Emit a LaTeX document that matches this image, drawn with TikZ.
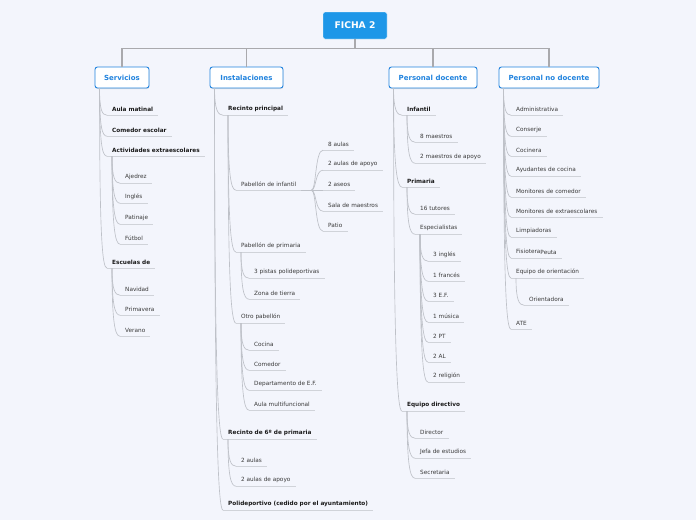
\documentclass[tikz,border=0pt]{standalone}
\usepackage{fontspec}
\setmainfont{DejaVu Sans}
\usetikzlibrary{calc,shadows}
\definecolor{bg}{HTML}{F3F5FC}
\definecolor{rootblue}{HTML}{1E97E8}
\definecolor{boxblue}{HTML}{2183DE}
\definecolor{txtb}{HTML}{1A1A1A}
\definecolor{txt}{HTML}{3A3A3A}
\definecolor{cncol}{HTML}{BEC1C8}
\definecolor{ulcol}{HTML}{D0D3D9}
\definecolor{trunkcol}{HTML}{A9A9AD}
\tikzset{
  lbl/.style={anchor=west, inner xsep=5pt, inner ysep=0pt, minimum height=12pt,
    font=\fontsize{5.75}{6}\selectfont, text=txt},
  blbl/.style={lbl, font=\fontsize{5.75}{6}\selectfont\bfseries, text=txtb},
  ul/.style={draw=ulcol, line width=0.8pt},
  cn/.style={draw=cncol, line width=0.65pt},
  trunk/.style={draw=trunkcol, line width=1.2pt},
  rootbox/.style={fill=rootblue, draw=white, line width=0.4pt, rounded corners=2pt,
    minimum width=64pt, minimum height=27pt, text=white,
    font=\fontsize{9.2}{10}\selectfont\bfseries},
  topbox/.style={fill=white, draw=boxblue, line width=0.9pt, rounded corners=2.5pt,
    minimum height=21pt, inner xsep=2pt, text=boxblue,
    font=\fontsize{7}{8}\selectfont\bfseries,
    drop shadow={opacity=0.22, shadow xshift=0.4pt, shadow yshift=-1pt}},
}
\newcommand\lf[4]{\node[#1] (#2) at (#3) {#4}; \draw[ul] (#2.south west) -- (#2.south east);}
\newcommand\cn[2]{\draw[cn] (#1) .. controls ($(#1)!0.8!(#1 |- #2.south west)$) and ($(#2.south west)+(-5,0)$) .. (#2.south west);}
\newcommand\org[1]{\coordinate (#1-o) at ($(#1.south west)+(5,0)$);}
\begin{document}
\begin{tikzpicture}[x=1pt,y=-1pt]
\useasboundingbox (0,0) rectangle (696,520);
\fill[bg] (0,0) rectangle (696,520);

% root and main boxes
\node[rootbox] (root) at (355,25.5) {FICHA 2};
\node[topbox, minimum width=54pt] (sv) at (122,77.5) {Servicios};
\node[topbox, minimum width=73pt] (in) at (246.5,77.5) {Instalaciones};
\node[topbox, minimum width=88pt] (pd) at (433,77.5) {Personal docente};
\node[topbox, minimum width=100pt] (pn) at (549,77.5) {Personal no docente};
\draw[trunk] (root.south) -- ++(0,9.5) -| (sv.north);
\draw[trunk] (root.south) -- ++(0,9.5) -| (in.north);
\draw[trunk] (root.south) -- ++(0,9.5) -| (pd.north);
\draw[trunk] (root.south) -- ++(0,9.5) -| (pn.north);
\org{sv}\org{in}\org{pd}\org{pn}

% ---------------- Servicios
\lf{blbl}{am}{107,109}{Aula matinal}
\lf{blbl}{ce}{107,130}{Comedor escolar}
\lf{blbl}{ae}{107,150}{Actividades extraescolares}
\lf{blbl}{ed}{107,262}{Escuelas de}
\cn{sv-o}{am}\cn{sv-o}{ce}\cn{sv-o}{ae}\cn{sv-o}{ed}
\org{ae}\org{ed}
\lf{lbl}{aj}{120,177}{Ajedrez}
\lf{lbl}{ig}{120,197}{Inglés}
\lf{lbl}{pt}{120,218}{Patinaje}
\lf{lbl}{fu}{120,238}{Fútbol}
\cn{ae-o}{aj}\cn{ae-o}{ig}\cn{ae-o}{pt}\cn{ae-o}{fu}
\lf{lbl}{nv}{120,289}{Navidad}
\lf{lbl}{pr}{120,309}{Primavera}
\lf{lbl}{ve}{120,330}{Verano}
\cn{ed-o}{nv}\cn{ed-o}{pr}\cn{ed-o}{ve}

% ---------------- Instalaciones
\lf{blbl}{rp}{223,109}{Recinto principal}
\lf{blbl}{r6}{223,433}{Recinto de 6º de primaria}
\lf{blbl}{po}{223,504}{Polideportivo (cedido por el ayuntamiento)}
\cn{in-o}{rp}\cn{in-o}{r6}\cn{in-o}{po}
\org{rp}\org{r6}
\lf{lbl}{pi}{236,184}{Pabellón de infantil}
\lf{lbl}{pp}{236,246}{Pabellón de primaria}
\lf{lbl}{op}{236,317}{Otro pabellón}
\cn{rp-o}{pi}\cn{rp-o}{pp}\cn{rp-o}{op}
\lf{lbl}{a8}{323,144}{8 aulas}
\lf{lbl}{a2}{323,164}{2 aulas de apoyo}
\lf{lbl}{as}{323,184}{2 aseos}
\lf{lbl}{sm}{323,205}{Sala de maestros}
\lf{lbl}{pa}{323,225}{Patio}
\coordinate (pi-f) at ($(pi.south east)+(10,0)$);
\draw[cn, line width=0.9pt] (pi.south east) -- (pi-f);
\foreach \c in {a8,a2,as,sm,pa}{
  \draw[cn] (pi-f) .. controls ($(pi-f)+(5,0)$) and ($(\c.south west)+(-8,0)$) .. (\c.south west);
}
\org{pp}\org{op}
\lf{lbl}{p3}{249,272}{3 pistas polideportivas}
\lf{lbl}{zt}{249,293}{Zona de tierra}
\cn{pp-o}{p3}\cn{pp-o}{zt}
\lf{lbl}{co}{249,344}{Cocina}
\lf{lbl}{cm}{249,364}{Comedor}
\lf{lbl}{de}{249,384}{Departamento de E.F.}
\lf{lbl}{au}{249,404}{Aula multifuncional}
\cn{op-o}{co}\cn{op-o}{cm}\cn{op-o}{de}\cn{op-o}{au}
\lf{lbl}{r2}{236,460}{2 aulas}
\lf{lbl}{ra}{236,480}{2 aulas de apoyo}
\cn{r6-o}{r2}\cn{r6-o}{ra}

% ---------------- Personal docente
\lf{blbl}{inf}{402,109}{Infantil}
\lf{blbl}{pri}{402,181}{Primaria}
\lf{blbl}{eqd}{402,405}{Equipo directivo}
\cn{pd-o}{inf}\cn{pd-o}{pri}\cn{pd-o}{eqd}
\org{inf}\org{pri}\org{eqd}
\lf{lbl}{m8}{415,136}{8 maestros}
\lf{lbl}{m2}{415,157}{2 maestros de apoyo}
\cn{inf-o}{m8}\cn{inf-o}{m2}
\lf{lbl}{tu}{415,208}{16 tutores}
\lf{lbl}{es}{415,228}{Especialistas}
\cn{pri-o}{tu}\cn{pri-o}{es}
\org{es}
\lf{lbl}{e1}{428,255}{3 inglés}
\lf{lbl}{e2}{428,275}{1 francés}
\lf{lbl}{e3}{428,295}{3 E.F.}
\lf{lbl}{e4}{428,316}{1 música}
\lf{lbl}{e5}{428,336}{2 PT}
\lf{lbl}{e6}{428,356}{2 AL}
\lf{lbl}{e7}{428,376}{2 religión}
\foreach \c in {e1,e2,e3,e4,e5,e6,e7}{\cn{es-o}{\c}}
\lf{lbl}{di}{415,432}{Director}
\lf{lbl}{je}{415,452}{Jefa de estudios}
\lf{lbl}{se}{415,472}{Secretaria}
\cn{eqd-o}{di}\cn{eqd-o}{je}\cn{eqd-o}{se}

% ---------------- Personal no docente
\lf{lbl}{n1}{511,109}{Administrativa}
\lf{lbl}{n2}{511,130}{Conserje}
\lf{lbl}{n3}{511,150}{Cocinera}
\lf{lbl}{n4}{511,170}{Ayudantes de cocina}
\lf{lbl}{n5}{511,191}{Monitores de comedor}
\lf{lbl}{n6}{511,211}{Monitores de extraescolares}
\lf{lbl}{n7}{511,231}{Limpiadoras}
\lf{lbl}{n8}{511,252}{Fisiotera\raisebox{-0.8pt}{Peuta}}
\lf{lbl}{n9}{511,272}{Equipo de orientación}
\lf{lbl}{n10}{511,323}{ATE}
\foreach \c in {n1,n2,n3,n4,n5,n6,n7,n8,n9,n10}{\cn{pn-o}{\c}}
\org{n9}
\lf{lbl}{or}{524,299}{Orientadora}
\cn{n9-o}{or}
\end{tikzpicture}
\end{document}
